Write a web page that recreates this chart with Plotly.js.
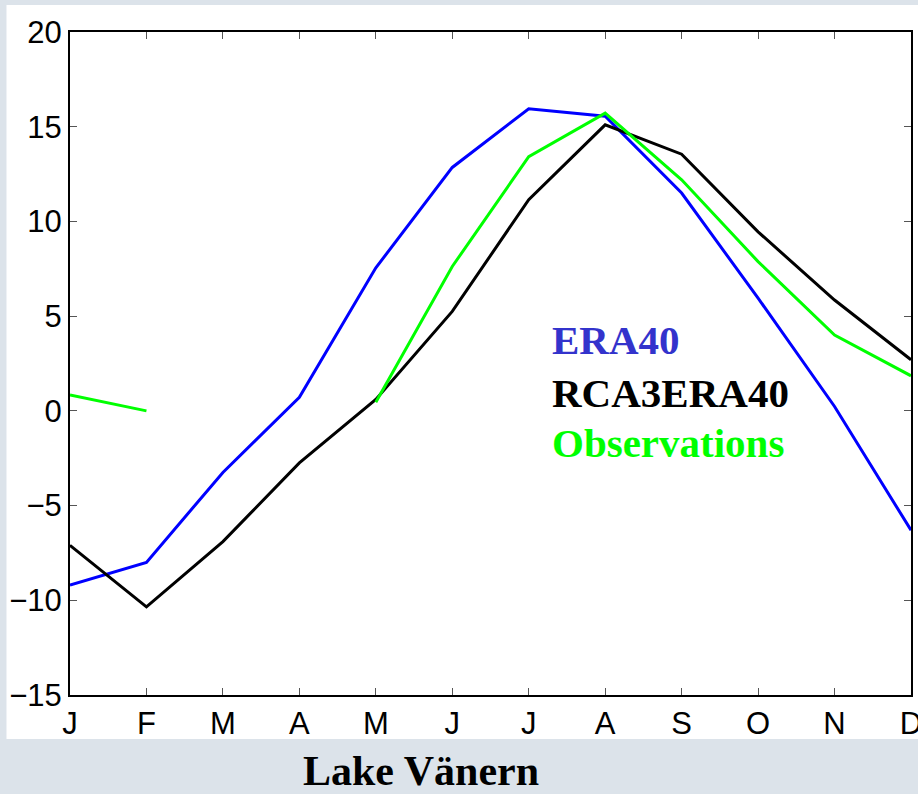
<!DOCTYPE html>
<html>
<head>
<meta charset="utf-8">
<script src="https://cdn.plot.ly/plotly-3.0.1.min.js"></script>
<style>html,body{margin:0;padding:0;background:#dce3ea;}#chart{width:918px;height:794px;}</style>
</head>
<body>
<div id="chart"></div>
<script>
const months = [1,2,3,4,5,6,7,8,9,10,11,12];
const monthLabels = ["J","F","M","A","M","J","J","A","S","O","N","D"];
const era40 = [-9.2, -8.0, -3.25, 0.72, 7.55, 12.85, 15.95, 15.55, 11.5, 5.95, 0.23, -6.3];
const rca3era40 = [-7.1, -10.35, -6.9, -2.75, 0.6, 5.25, 11.15, 15.1, 13.55, 9.45, 5.85, 2.7];
const observations = [0.84, 0.0, null, null, 0.45, 7.62, 13.42, 15.72, 12.2, 7.88, 4.0, 1.85];
const seriesNames = ["ERA40", "RCA3ERA40", "Observations"];
const seriesColors = ["#0000ff", "#000000", "#00ff00"];
const labelColors = ["#3333cc", "#000000", "#00ff00"];
const chartTitle = "Lake Vänern";

const traces = [era40, rca3era40, observations].map((ys, i) => ({
  x: months, y: ys, type: "scatter", mode: "lines", name: seriesNames[i],
  line: {color: seriesColors[i], width: 3}, connectgaps: false,
  hoverinfo: "x+y"
}));

const labelY = [3.75, 0.95, -1.7];
const annotations = seriesNames.map((n, i) => ({
  xref: "x", yref: "y", x: 7.28, y: labelY[i], xanchor: "left", yanchor: "middle",
  text: "<b>" + n + "</b>", showarrow: false,
  font: {family: "Liberation Serif, Times New Roman, serif", size: 41, color: labelColors[i]}
}));

const layout = {
  width: 918, height: 794,
  margin: {l: 70, r: 7, t: 32, b: 99, pad: 0},
  paper_bgcolor: "#dce3ea",
  plot_bgcolor: "#ffffff",
  showlegend: false,
  title: {
    text: "<b>" + chartTitle + "</b>", xref: "container", yref: "container",
    x: 0.4586, y: 0.03, xanchor: "center", yanchor: "middle",
    font: {family: "Liberation Serif, Times New Roman, serif", size: 42, color: "#000"}
  },
  xaxis: {
    range: [1, 12], tickvals: months, ticktext: monthLabels,
    ticks: "inside", ticklen: 7, tickwidth: 1, tickcolor: "#555",
    ticklabeloverflow: "allow",
    showline: true, linecolor: "#000", linewidth: 2, mirror: "ticks",
    showgrid: false, zeroline: false,
    tickfont: {family: "Liberation Sans, Arial, sans-serif", size: 31, color: "#000"}
  },
  yaxis: {
    range: [-15, 20], dtick: 5, tick0: 0,
    ticks: "inside", ticklen: 7, tickwidth: 1, tickcolor: "#555",
    showline: true, linecolor: "#000", linewidth: 2, mirror: "ticks",
    showgrid: false, zeroline: false,
    tickfont: {family: "Liberation Sans, Arial, sans-serif", size: 31, color: "#000"}
  },
  shapes: [{
    type: "rect", xref: "paper", yref: "paper", layer: "below",
    x0: -63.5/841, x1: 1.2, y0: -44/663, y1: 1 + 27/663,
    fillcolor: "#ffffff", line: {width: 0}
  }],
  annotations: annotations
};

Plotly.newPlot("chart", traces, layout, {displayModeBar: false, staticPlot: true});
</script>
</body>
</html>
